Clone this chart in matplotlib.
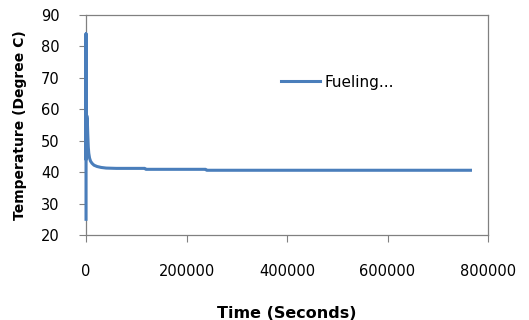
import matplotlib
matplotlib.use("Agg")
import matplotlib.pyplot as plt

# データ
time_s = [0, 0, 0, 500, 1500, 2500, 3500, 4500, 5500, 7000, 9000, 12000, 16000,
          22000, 30000, 40000, 60000, 117000, 119000, 238000, 240000, 765000]
temp_c = [25, 84, 44, 50, 58, 57, 52, 48, 46, 44.5, 43.5, 42.8, 42.2,
          41.8, 41.5, 41.3, 41.2, 41.2, 40.9, 40.9, 40.6, 40.6]

xticks = [0, 200000, 400000, 600000, 800000]
yticks = [20, 30, 40, 50, 60, 70, 80, 90]

fig = plt.figure(figsize=(5.29, 3.20), dpi=100)
ax = fig.add_axes([0.1626, 0.2656, 0.76, 0.6875])

ax.plot(time_s, temp_c, color='#4a7ebb', linewidth=2.2, label='Fueling...',
        zorder=5, clip_on=False, solid_joinstyle='round')

ax.set_xlim(0, 800000)
ax.set_ylim(20, 90)
ax.set_xticks(xticks)
ax.set_xticklabels([str(t) for t in xticks])
ax.set_yticks(yticks)

for s in ax.spines.values():
    s.set_color('#808080')
    s.set_linewidth(0.9)
    s.set_zorder(2)

ax.tick_params(axis='x', direction='out', length=5, color='#808080', pad=16, labelsize=10.5)
ax.tick_params(axis='y', direction='out', length=5, color='#808080', pad=14, labelsize=10.5)

ax.set_xlabel('Time (Seconds)', fontsize=11.5, fontweight='bold', labelpad=19)
ax.set_ylabel('Temperature (Degree C)', fontsize=10, fontweight='bold', labelpad=10)

ax.legend(loc='center left', bbox_to_anchor=(0.45, 0.695), frameon=False,
          fontsize=11, handlelength=2.6, handletextpad=0.25)

fig.savefig('out.png', dpi=100)
